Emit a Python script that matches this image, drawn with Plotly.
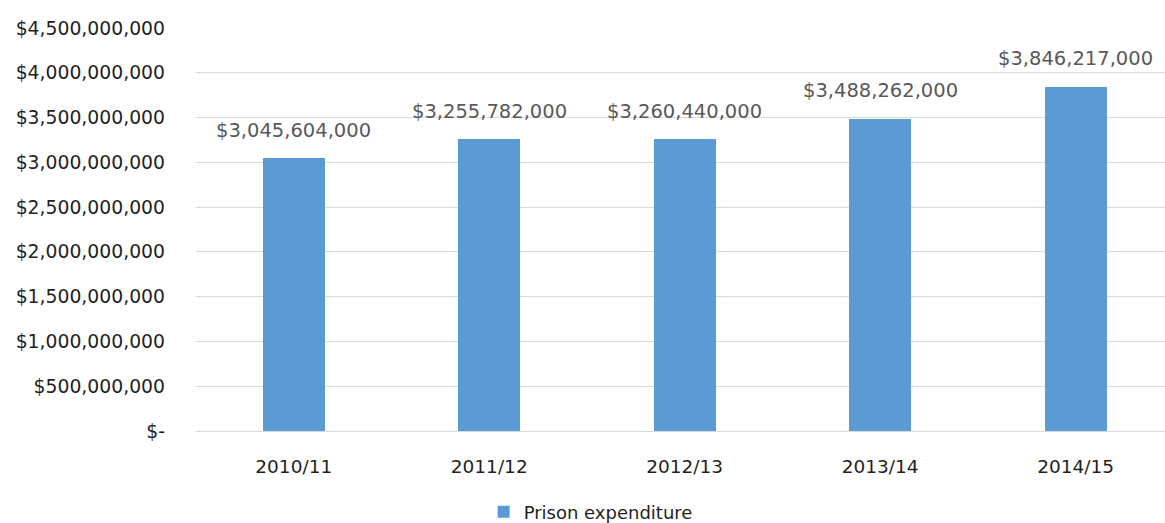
import plotly.graph_objects as go

categories = ["2010/11", "2011/12", "2012/13", "2013/14", "2014/15"]
expenditure = [3045604000, 3255782000, 3260440000, 3488262000, 3846217000]
series_name = "Prison expenditure"
tick_vals = [0, 500000000, 1000000000, 1500000000, 2000000000, 2500000000,
             3000000000, 3500000000, 4000000000, 4500000000]
tick_text = ["$-", "$500,000,000", "$1,000,000,000", "$1,500,000,000", "$2,000,000,000",
             "$2,500,000,000", "$3,000,000,000", "$3,500,000,000", "$4,000,000,000",
             "$4,500,000,000"]
labels = ["${:,}".format(v) for v in expenditure]

FONT = "DejaVu Sans, sans-serif"

fig = go.Figure()
fig.add_trace(go.Bar(
    x=categories, y=expenditure, name=series_name,
    marker=dict(color="#5b9bd5", line=dict(width=0)),
    width=0.317,
    showlegend=True,
))

for c, v, t in zip(categories, expenditure, labels):
    fig.add_annotation(x=c, y=v, text=t, showarrow=False, yanchor="middle",
                       yshift=28, font=dict(family=FONT, size=19.5, color="#595959"))

fig.update_layout(
    width=1165, height=523,
    margin=dict(l=196, r=0, t=27, b=92),
    paper_bgcolor="white", plot_bgcolor="white",
    font=dict(family=FONT, size=17, color="#1f1f1f"),
    bargap=0,
    xaxis=dict(range=[-0.5, 4.457], showgrid=False, showline=False, ticks="",
               tickfont=dict(family=FONT, size=18.5, color="#1f1f1f"),
               ticklabelstandoff=22),
    yaxis=dict(range=[0, 4.5112e9], tickvals=tick_vals, ticktext=tick_text,
               showgrid=True, gridcolor="#d9d9d9", gridwidth=1.3,
               zeroline=True, zerolinecolor="#d9d9d9", zerolinewidth=1.3,
               ticks="", ticklabelstandoff=30,
               tickfont=dict(family=FONT, size=18.8, color="#1f1f1f")),
    legend=dict(orientation="h", xref="container", yref="container",
                x=0.507, xanchor="center", y=0.021, yanchor="middle",
                font=dict(family=FONT, size=18, color="#1f1f1f"),
                itemwidth=30),
)

fig.write_html("out.html")
